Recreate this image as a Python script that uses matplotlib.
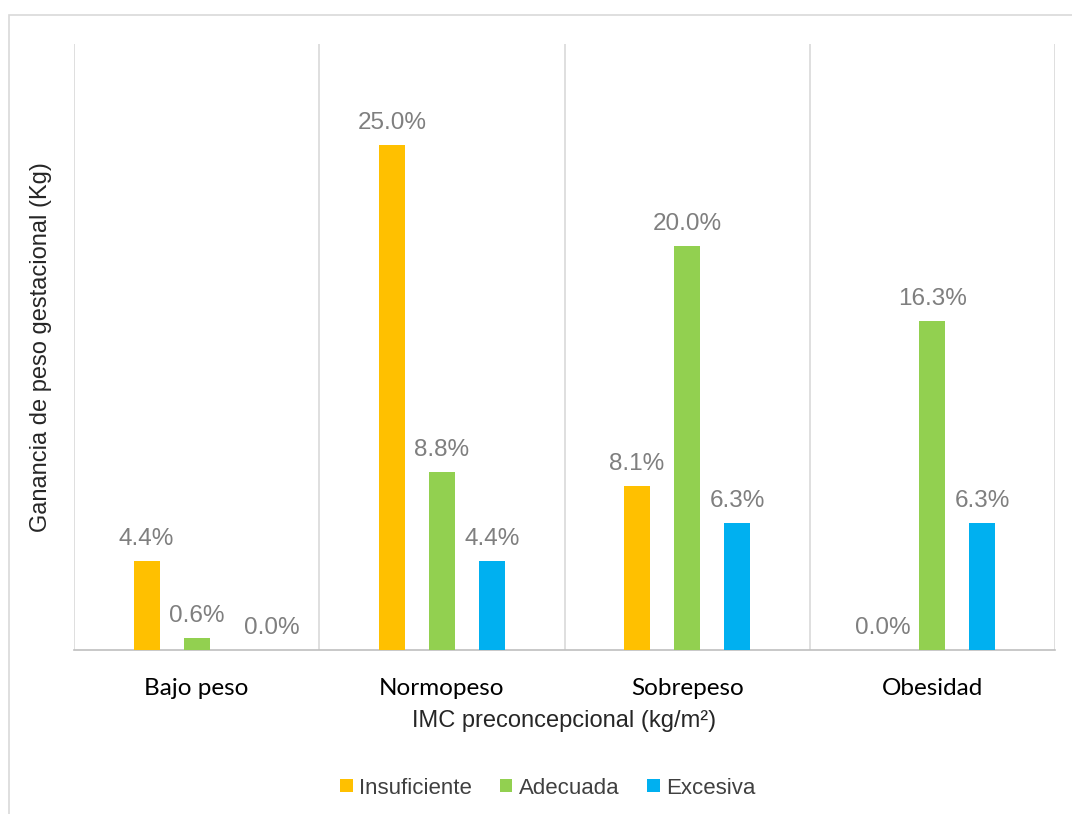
import matplotlib.pyplot as plt
from matplotlib.patches import Patch, Rectangle
import numpy as np

categorias = ["Bajo peso", "Normopeso", "Sobrepeso", "Obesidad"]
series = ["Insuficiente", "Adecuada", "Excesiva"]
insuficiente = [4.4, 25.0, 8.1, 0.0]
adecuada = [0.6, 8.8, 20.0, 16.3]
excesiva = [0.0, 4.4, 6.3, 6.3]
colores = ["#FFC000", "#92D050", "#00B0F0"]

plt.rcParams['font.family'] = ['Liberation Sans', 'DejaVu Sans']

fig = plt.figure(figsize=(10.72, 8.14), dpi=100)
ax = fig.add_axes([74 / 1072, 1 - 650 / 814, (1055 - 74) / 1072, (650 - 44) / 814])

# marco exterior del grafico
fig.patches.append(Rectangle((8.5 / 1072, -0.1), 1.2, 1.1 - 14.5 / 814,
                             transform=fig.transFigure, fill=False,
                             edgecolor="#d9d9d9", linewidth=1.2))

x = np.arange(len(categorias))
ancho = 26 / 245
paso = 50 / 245
valores = [insuficiente, adecuada, excesiva]
# Excel desplaza algo la etiqueta 0.0% de Bajo peso
desplaza = {(2, 0): 18}
for i, (vals, col) in enumerate(zip(valores, colores)):
    pos = x + (i - 1) * paso
    ax.bar(pos, vals, width=ancho, color=col, zorder=3)
    for j, (px, v) in enumerate(zip(pos, vals)):
        ax.annotate(f"{v:.1f}%", (px, v), xytext=(desplaza.get((i, j), 0), 8),
                    textcoords="offset points", ha="center", va="bottom",
                    fontsize=17.5, color="#7f7f7f")

ax.set_xlim(-0.5, len(categorias) - 0.5)
ax.set_ylim(0, 30)
ax.set_yticks([])
ax.set_xticks(x)
ax.set_xticklabels(categorias, fontsize=17.5, family=['Lato', 'DejaVu Sans'], color="black")
ax.tick_params(axis="x", length=0, pad=20)
for b in np.arange(-0.5, len(categorias), 1.0):
    ax.axvline(b, color="#d9d9d9", linewidth=1.2, zorder=1)
for s in ["top", "right", "left"]:
    ax.spines[s].set_visible(False)
ax.spines["bottom"].set_color("#bfbfbf")
ax.spines["bottom"].set_linewidth(1.2)

ax.set_ylabel("Ganancia de peso gestacional (Kg)", fontsize=17, color="#262626", labelpad=16)
ax.set_xlabel("IMC preconcepcional (kg/m²)", fontsize=17, color="#262626", labelpad=8)

handles = [Patch(facecolor=c, label=s) for s, c in zip(series, colores)]
fig.legend(handles=handles, loc="center", bbox_to_anchor=(548 / 1072, 1 - 788 / 814),
           ncol=3, frameon=False, fontsize=16, handlelength=0.55, handleheight=0.55,
           handletextpad=0.3, columnspacing=1.25, labelcolor="#404040")

fig.savefig("out.png", dpi=100)
